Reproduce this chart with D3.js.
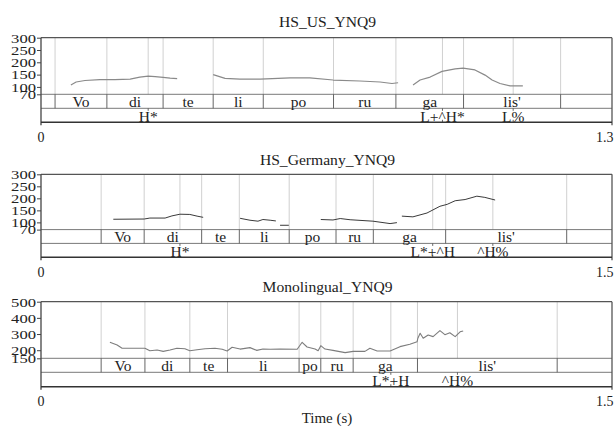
<!DOCTYPE html>
<html>
<head>
<meta charset="utf-8">
<script src="https://cdn.jsdelivr.net/npm/d3@7"></script>
<style>
  body { margin: 0; background: #fff; }
  text { font-family: "Liberation Serif", "Times New Roman", serif; fill: #222; }
</style>
</head>
<body>
<svg id="chart"></svg>
<script>
// three Praat-style pitch panels: F0 track + word tier + tone tier

var titles = ["HS_US_YNQ9", "HS_Germany_YNQ9", "Monolingual_YNQ9"];
var durations = [1.3, 1.5, 1.5];
var yTicks = [[70, 100, 150, 200, 250, 300], [70, 100, 150, 200, 250, 300], [150, 200, 300, 400, 500]];

var words = ["", "Vo", "di", "te", "li", "po", "ru", "ga", "lis'", ""];

// interval boundaries (s) of the word tier
var usBounds = [0, 0.032, 0.150, 0.278, 0.392, 0.506, 0.666, 0.808, 0.962, 1.183, 1.3];
var deBounds = [0, 0.158, 0.271, 0.422, 0.521, 0.652, 0.775, 0.873, 1.063, 1.381, 1.5];
var monoBounds = [0, 0.158, 0.273, 0.391, 0.490, 0.678, 0.735, 0.820, 0.989, 1.356, 1.5];

// tone tier points
var usToneTimes = [0.244, 0.914, 1.075];
var usTones = ["H*", "L+^H*", "L%"];
var deToneTimes = [0.365, 1.029, 1.187];
var deTones = ["H*", "L*+^H", "^H%"];
var monoToneTimes = [0.919, 1.094];
var monoTones = ["L*+H", "^H%"];

// pitch track pieces, [time s, F0 Hz]
var usPitch = [
  [[0.068,108],[0.080,120],[0.100,126],[0.134,130],[0.168,130],[0.203,132],[0.225,140],[0.244,144],[0.260,142],[0.278,139],[0.294,136],[0.310,134]],
  [[0.392,150],[0.419,135],[0.453,132],[0.499,132],[0.567,137],[0.612,137],[0.665,128],[0.726,124],[0.772,120],[0.799,114],[0.813,117]],
  [[0.847,108],[0.863,128],[0.886,140],[0.913,163],[0.943,173],[0.961,176],[0.988,169],[1.011,148],[1.027,128],[1.045,114],[1.068,104],[1.097,104]]
];
var dePitch = [
  [[0.190,113],[0.271,114],[0.286,118],[0.326,118],[0.344,127],[0.365,134],[0.391,133],[0.410,126],[0.426,121]],
  [[0.523,117],[0.549,109],[0.570,105],[0.583,112],[0.602,109],[0.617,106]],
  [[0.628,88],[0.651,88]],
  [[0.735,112],[0.767,110],[0.786,116],[0.812,111],[0.872,105],[0.917,95],[0.935,99]],
  [[0.948,126],[0.977,123],[1.014,139],[1.048,167],[1.067,175],[1.088,190],[1.114,195],[1.145,209],[1.166,204],[1.193,193]]
];
var monoPitch = [
  [[0.181,249],[0.200,232],[0.213,212],[0.247,212],[0.273,212],[0.286,197],[0.305,201],[0.321,193],[0.339,201],[0.357,212],
   [0.378,209],[0.391,197],[0.410,203],[0.431,209],[0.457,212],[0.476,206],[0.489,195],[0.502,218],[0.523,207],[0.549,216],
   [0.567,199],[0.583,207],[0.602,206],[0.628,207],[0.673,206],[0.686,249],[0.699,220],[0.720,207],[0.728,197],[0.735,228],
   [0.746,207],[0.767,199],[0.799,185],[0.820,193],[0.851,193],[0.864,212],[0.883,195],[0.917,195],[0.943,222],[0.969,237],
   [0.988,253],[0.990,274],[0.996,305],[1.004,274],[1.017,294],[1.030,284],[1.048,321],[1.061,296],[1.074,308],[1.088,284],
   [1.101,314],[1.109,319]]
];

var panelData = [
  {bounds: usBounds, toneTimes: usToneTimes, tones: usTones, pitch: usPitch},
  {bounds: deBounds, toneTimes: deToneTimes, tones: deTones, pitch: dePitch},
  {bounds: monoBounds, toneTimes: monoToneTimes, tones: monoTones, pitch: monoPitch}
];

// layout (pixels) for each panel
var left = 41, right = 612;
var layout = [
  {title: 26.5, top: 37.7, pitchBot: 94.3, wordBot: 108.3, toneBot: 122.3, curve: "#8a8a8a", cw: 1.2},
  {title: 165, top: 174.3, pitchBot: 229.6, wordBot: 243.4, toneBot: 257.3, curve: "#3a3a3a", cw: 1},
  {title: 292, top: 301.7, pitchBot: 358.3, wordBot: 372.3, toneBot: 386.7, curve: "#7d7d7d", cw: 1.1}
];

var svg = d3.select("#chart").attr("width", 616).attr("height", 426);

panelData.forEach(function (p, i) {
  var L = layout[i];
  var g = svg.append("g");

  var x = d3.scaleLinear().domain([0, durations[i]]).range([left, right]);
  var yt = yTicks[i];
  var y = d3.scaleLinear().domain([yt[0], yt[yt.length - 1]]).range([L.pitchBot, L.top]);

  g.append("text")
    .attr("x", (left + right) / 2 + 1).attr("y", L.title)
    .attr("text-anchor", "middle").style("font-size", "15.6px")
    .text(titles[i]);

  // light guide lines through the pitch area
  var guides = p.bounds.slice(1, -1).concat(p.toneTimes);
  g.selectAll(".guide").data(guides).enter().append("line")
    .attr("x1", function (d) { return x(d); }).attr("x2", function (d) { return x(d); })
    .attr("y1", L.top).attr("y2", L.pitchBot)
    .attr("stroke", "#c4c4c4").attr("stroke-width", 0.8);

  // tier separators
  [L.pitchBot, L.wordBot].forEach(function (yy) {
    g.append("line").attr("x1", left).attr("x2", right).attr("y1", yy).attr("y2", yy)
      .attr("stroke", "#6a6a6a").attr("stroke-width", 0.9);
  });

  // word boundaries
  g.selectAll(".wb").data(p.bounds.slice(1, -1)).enter().append("line")
    .attr("x1", function (d) { return x(d); }).attr("x2", function (d) { return x(d); })
    .attr("y1", L.pitchBot).attr("y2", L.wordBot)
    .attr("stroke", "#555").attr("stroke-width", 0.9);

  g.selectAll(".word").data(words).enter().append("text")
    .attr("x", function (d, k) { return (x(p.bounds[k]) + x(p.bounds[k + 1])) / 2; })
    .attr("y", L.wordBot - 1.2)
    .attr("text-anchor", "middle").style("font-size", "15.5px")
    .text(function (d) { return d; });

  // tone points
  p.toneTimes.forEach(function (t, k) {
    g.append("line").attr("x1", x(t)).attr("x2", x(t)).attr("y1", L.wordBot).attr("y2", L.wordBot + 2.5)
      .attr("stroke", "#555").attr("stroke-width", 0.9);
    g.append("line").attr("x1", x(t)).attr("x2", x(t)).attr("y1", L.toneBot - 2.5).attr("y2", L.toneBot)
      .attr("stroke", "#555").attr("stroke-width", 0.9);
    g.append("text").attr("x", x(t)).attr("y", L.toneBot - 0.8)
      .attr("text-anchor", "middle").style("font-size", "15.5px")
      .text(p.tones[k]);
  });

  // pitch track
  var line = d3.line().x(function (d) { return x(d[0]); }).y(function (d) { return y(d[1]); });
  g.selectAll(".f0").data(p.pitch).enter().append("path")
    .attr("d", line).attr("fill", "none")
    .attr("stroke", L.curve).attr("stroke-width", L.cw).attr("stroke-linejoin", "round");

  // frame
  g.append("line").attr("x1", left).attr("x2", right).attr("y1", L.top).attr("y2", L.top)
    .attr("stroke", "#555").attr("stroke-width", 1.3);
  g.append("line").attr("x1", right).attr("x2", right).attr("y1", L.top).attr("y2", L.toneBot + 3)
    .attr("stroke", "#555").attr("stroke-width", 1.3);
  g.append("line").attr("x1", left).attr("x2", left).attr("y1", L.top).attr("y2", L.toneBot + 3)
    .attr("stroke", "#444").attr("stroke-width", 1.3);
  g.append("line").attr("x1", left).attr("x2", right).attr("y1", L.toneBot).attr("y2", L.toneBot)
    .attr("stroke", "#333").attr("stroke-width", 1.6);

  // y axis ticks + labels
  var yAxis = d3.axisLeft(y).tickValues(yt).tickSize(4).tickSizeOuter(0).tickPadding(1);
  var ya = g.append("g").attr("transform", "translate(" + left + ",0)").call(yAxis);
  ya.select(".domain").remove();
  ya.selectAll(".tick line").attr("stroke", "#444");
  ya.selectAll(".tick text")
    .attr("font-family", null)
    .style("font-size", "13.5px").style("fill", "#222")
    .attr("textLength", function (d) { return String(d).length * 8.3; })
    .attr("lengthAdjust", "spacingAndGlyphs");

  // time labels
  var xl = [0, durations[i]];
  g.selectAll(".xl").data(xl).enter().append("text")
    .attr("x", function (d, k) { return k === 0 ? x(d) : x(d) + 1.5; })
    .attr("y", L.toneBot + 19.5)
    .attr("text-anchor", function (d, k) { return k === 0 ? "middle" : "end"; })
    .style("font-size", "14px")
    .text(function (d) { return d; });
});

svg.append("text")
  .attr("x", 327).attr("y", 422.5)
  .attr("text-anchor", "middle").style("font-size", "15px")
  .text("Time (s)");
</script>
</body>
</html>
